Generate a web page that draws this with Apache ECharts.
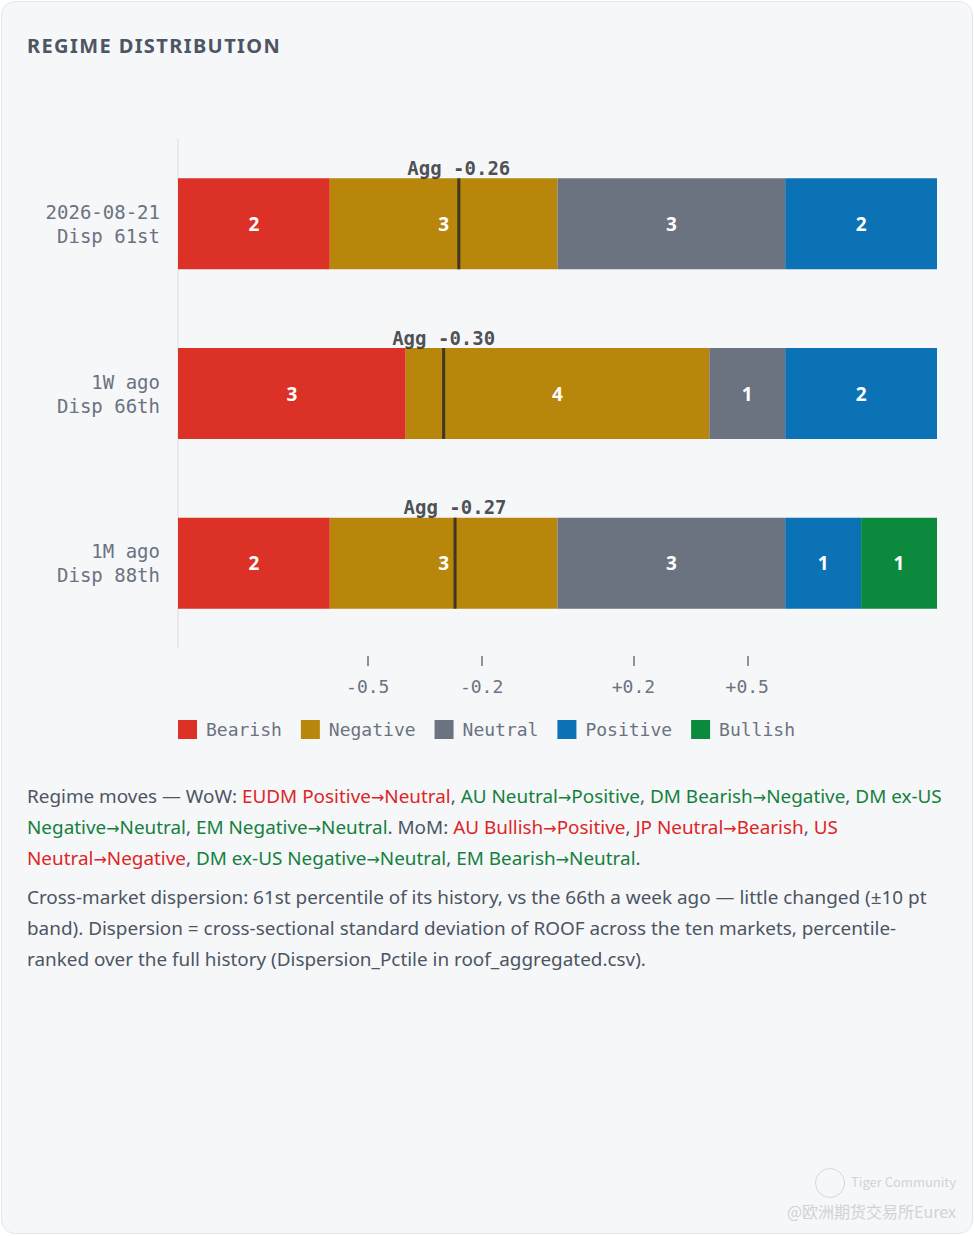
<!DOCTYPE html>
<html>
<head>
<meta charset="utf-8">
<script src="https://cdn.jsdelivr.net/npm/echarts@6/dist/echarts.min.js"></script>
<style>
  html, body { margin: 0; padding: 0; background: #ffffff; }
  .card {
    position: absolute; left: 1px; top: 1px; width: 970px; height: 1231px;
    border: 1px solid #e3e6ea; border-radius: 14px; background: #f6f7f9;
    overflow: hidden;
  }
  #chart { position: absolute; left: -1px; top: -1px; width: 974px; height: 770px; }
  .title {
    position: absolute; left: 25px; top: 30px;
    font-family: "Noto Sans", sans-serif; font-size: 20px; font-weight: 700;
    letter-spacing: 1.4px; color: #4b5563; line-height: 28px;
  }
  .notes {
    position: absolute; left: 25px; top: 779px; width: 925px;
    font-family: "Noto Sans", sans-serif; font-size: 18.9px;
    line-height: 31px; color: #4b5563;
  }
  .notes p { margin: 0 0 8px 0; }
  .a { font-family: "DejaVu Sans", sans-serif; font-size: 16px; line-height: 1; }
  .dn { color: #dc2626; }
  .up { color: #15803d; }
  .wm {
    position: absolute; right: 16px; bottom: 10px; text-align: right;
    font-family: "Noto Sans CJK SC", "Noto Sans", sans-serif; color: #cfd3d8;
  }
  .wm .t1 { font-size: 13px; line-height: 34px; }
  .wm .logo {
    display: inline-block; width: 30px; height: 30px; border: 1.5px solid #d3d7dc;
    border-radius: 50%; vertical-align: middle; margin-right: 6px; box-sizing: border-box;
  }
  .wm .t2 { font-size: 16px; line-height: 24px; }
</style>
</head>
<body>
<div class="card">
  <div id="chart"></div>
  <div class="title">REGIME DISTRIBUTION</div>
  <div class="notes">
    <p>Regime moves — WoW: <span class="dn">EUDM Positive</span><span class="dn a">→</span><span class="dn">Neutral</span>, <span class="up">AU Neutral</span><span class="up a">→</span><span class="up">Positive</span>, <span class="up">DM Bearish</span><span class="up a">→</span><span class="up">Negative</span>, <span class="up">DM ex-US</span> <span class="up">Negative</span><span class="up a">→</span><span class="up">Neutral</span>, <span class="up">EM Negative</span><span class="up a">→</span><span class="up">Neutral</span>. MoM: <span class="dn">AU Bullish</span><span class="dn a">→</span><span class="dn">Positive</span>, <span class="dn">JP Neutral</span><span class="dn a">→</span><span class="dn">Bearish</span>, <span class="dn">US</span> <span class="dn">Neutral</span><span class="dn a">→</span><span class="dn">Negative</span>, <span class="up">DM ex-US Negative</span><span class="up a">→</span><span class="up">Neutral</span>, <span class="up">EM Bearish</span><span class="up a">→</span><span class="up">Neutral</span>.</p>
    <p>Cross-market dispersion: 61st percentile of its history, vs the 66th a week ago — little changed (±10 pt band). Dispersion = cross-sectional standard deviation of ROOF across the ten markets, percentile-ranked over the full history (Dispersion_Pctile in roof_aggregated.csv).</p>
  </div>
  <div class="wm">
    <div class="t1"><span class="logo"></span>Tiger Community</div>
    <div class="t2">@欧洲期货交易所Eurex</div>
  </div>
</div>
<script>
(function () {
  // --- data ---
  var rows = ['2026-08-21\nDisp 61st', '1W ago\nDisp 66th', '1M ago\nDisp 88th'];
  var regimes = ['Bearish', 'Negative', 'Neutral', 'Positive', 'Bullish'];
  var bearish = [2, 3, 2];
  var negative = [3, 4, 3];
  var neutral = [3, 1, 3];
  var positive = [2, 2, 1];
  var bullish = [0, 0, 1];
  var aggScores = [-0.26, -0.30, -0.27];
  var aggTicks = [-0.5, -0.2, 0.2, 0.5];

  var colors = ['#dc3126', '#b8860b', '#6b7280', '#0a72b5', '#0b8a3e'];
  var counts = [bearish, negative, neutral, positive, bullish];
  var mono = '"DejaVu Sans Mono", "Liberation Mono", monospace';
  var sans = '"Noto Sans", "Open Sans", sans-serif';
  var muted = '#6b7280';

  var chart = echarts.init(document.getElementById('chart'), null, { renderer: 'svg' });

  // stacked regime counts, one series per regime
  var series = regimes.map(function (name, i) {
    return {
      name: name,
      type: 'bar',
      stack: 'total',
      barWidth: 91,
      xAxisIndex: 0,
      itemStyle: { color: colors[i] },
      label: {
        show: true,
        position: 'inside',
        color: '#ffffff',
        fontFamily: sans,
        fontWeight: 'bold',
        fontSize: 19,
        formatter: function (p) { return p.value ? String(p.value) : ''; }
      },
      data: counts[i]
    };
  });

  // aggregate score markers on the -1..+1 axis
  series.push({
    name: 'Agg',
    type: 'scatter',
    xAxisIndex: 1,
    symbol: 'rect',
    symbolSize: [3, 91],
    itemStyle: { color: '#1f2329' },
    z: 5,
    silent: true,
    label: {
      show: true,
      position: 'top',
      distance: 1,
      color: '#1f2329',
      fontFamily: mono,
      fontWeight: 'bold',
      fontSize: 19,
      formatter: function (p) { return 'Agg ' + p.value[0].toFixed(2); }
    },
    data: aggScores.map(function (v, i) { return [v, i]; })
  });

  chart.setOption({
    animation: false,
    legend: {
      data: regimes,
      left: 177,
      top: 719,
      padding: 0,
      itemWidth: 19,
      itemHeight: 19,
      itemGap: 19,
      icon: 'rect',
      textStyle: {
        fontFamily: mono,
        fontSize: 18,
        color: muted,
        padding: [0, 0, 0, 4]
      }
    },
    grid: { left: 177, right: 38, top: 138, height: 509 },
    xAxis: [
      { type: 'value', min: 0, max: 10, show: false },
      {
        type: 'value',
        min: -1,
        max: 1,
        position: 'bottom',
        offset: 8,
        axisLine: { show: false },
        splitLine: { show: false },
        axisTick: {
          show: true,
          customValues: aggTicks,
          length: 10,
          lineStyle: { color: '#6b7280', width: 1.5 }
        },
        axisLabel: {
          customValues: aggTicks,
          margin: 21,
          color: muted,
          fontFamily: mono,
          fontSize: 18,
          formatter: function (v) { return (v > 0 ? '+' : '') + v.toFixed(1); }
        }
      }
    ],
    yAxis: {
      type: 'category',
      data: rows,
      inverse: true,
      axisLine: { show: true, lineStyle: { color: '#e2e5e9', width: 1.5 } },
      axisTick: { show: false },
      axisLabel: {
        margin: 18,
        color: muted,
        fontFamily: mono,
        fontSize: 19,
        lineHeight: 24,
        align: 'right'
      }
    },
    series: series
  });
})();
</script>
</body>
</html>
